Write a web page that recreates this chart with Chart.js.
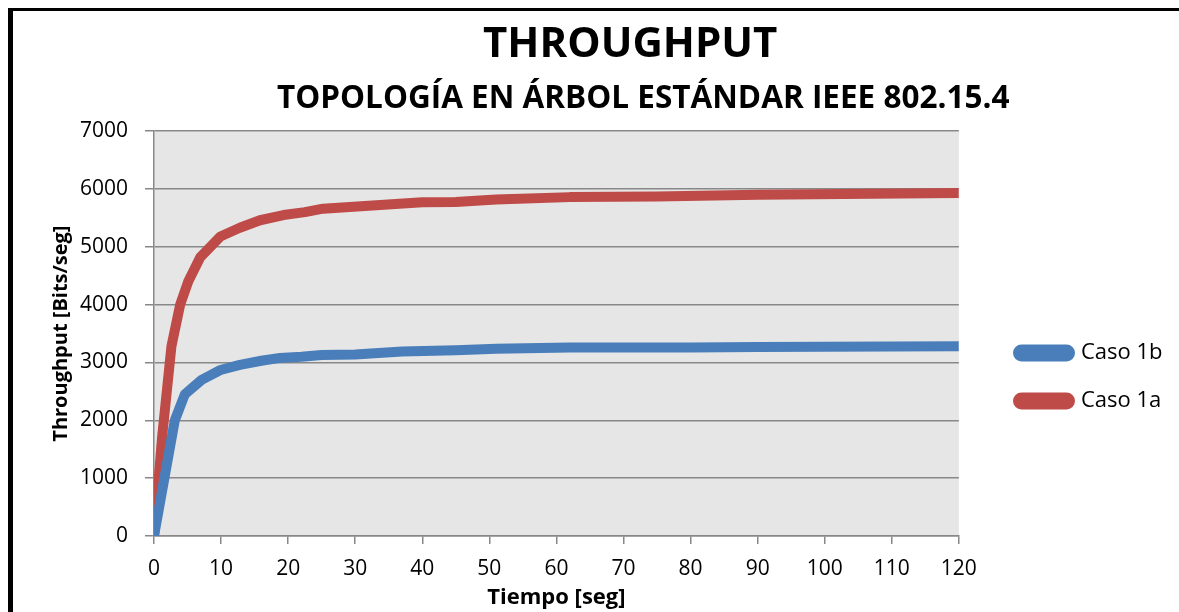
<!DOCTYPE html>
<html>
<head>
<meta charset="utf-8">
<script src="https://cdn.jsdelivr.net/npm/chart.js@4.4.1/dist/chart.umd.min.js"></script>
<style>
  html, body { margin: 0; padding: 0; background: #fff; }
  #wrap { position: relative; width: 1179px; height: 612px; overflow: hidden; }
  #frame { position: absolute; left: 8px; top: 8px; width: 1300px; height: 700px;
           border-left: 5px solid #000; border-top: 3px solid #000; pointer-events: none; }
  canvas { position: absolute; left: 0; top: 0; }
</style>
</head>
<body>
<div id="wrap">
  <canvas id="c" width="1179" height="612"></canvas>
  <div id="frame"></div>
</div>
<script>
// ---- data ----
const titleText = 'THROUGHPUT';
const subtitleText = 'TOPOLOGÍA EN ÁRBOL ESTÁNDAR IEEE 802.15.4';
const xTitle = 'Tiempo [seg]';
const yTitle = 'Throughput [Bits/seg]';
const seriesNames = ['Caso 1b', 'Caso 1a'];

const timeB  = [0, 3.1, 4.6, 7.1, 9.9, 12.8, 16, 18.8, 22, 25, 30, 37, 45, 51, 62, 80, 90, 120];
const caso1b = [0, 2000, 2450, 2700, 2870, 2960, 3030, 3080, 3100, 3130, 3140, 3190, 3210, 3240, 3260, 3260, 3270, 3280];

const timeA  = [0, 1.2, 2.6, 3.9, 5.1, 6.9, 9.9, 12.8, 15.8, 19.3, 22.5, 25.2, 36, 40, 45, 51, 62, 75, 90, 120];
const caso1a = [0, 1700, 3280, 4000, 4400, 4820, 5180, 5330, 5460, 5550, 5600, 5660, 5740, 5770, 5775, 5820, 5860, 5870, 5900, 5930];

const xMin = 0, xMax = 120, xStep = 10;
const yMin = 0, yMax = 7000, yStep = 1000;

// ---- build ----
const pts = (xs, ys) => xs.map((x, i) => ({ x: x, y: ys[i] }));
const FONT = "'Open Sans', 'Liberation Sans', sans-serif";

const plotBg = {
  id: 'plotBg',
  beforeDraw(chart) {
    const a = chart.chartArea, ctx = chart.ctx;
    ctx.save();
    ctx.fillStyle = '#e6e6e6';
    ctx.fillRect(a.left, a.top, a.right - a.left, a.bottom - a.top);
    ctx.restore();
  }
};

// place legend and titles like the reference
const placeBoxes = {
  id: 'placeBoxes',
  afterLayout(chart) {
    const l = chart.legend;
    if (l) {
      const pad = l.options.labels.padding;
      const dx = 1018 - (l.left + pad);
      const dy = 71;
      l.left += dx; l.right += dx; l.top += dy; l.bottom += dy;
    }
    const t = chart.titleBlock;
    if (t) { t.left += 54; t.right += 54; }
    const s = chart.boxes.find(b => b !== t && b.options && b.options.text === subtitleText);
    if (s) { s.left += 67; s.right += 67; }
  }
};

new Chart(document.getElementById('c'), {
  type: 'line',
  data: {
    datasets: [
      { label: seriesNames[0], data: pts(timeB, caso1b), borderColor: '#4a7ebb', backgroundColor: '#4a7ebb',
        borderWidth: 10, pointRadius: 0, tension: 0, borderJoinStyle: 'round', borderCapStyle: 'butt' },
      { label: seriesNames[1], data: pts(timeA, caso1a), borderColor: '#be4b48', backgroundColor: '#be4b48',
        borderWidth: 10, pointRadius: 0, tension: 0, borderJoinStyle: 'round', borderCapStyle: 'butt' }
    ]
  },
  options: {
    responsive: false,
    animation: false,
    devicePixelRatio: 1,
    layout: { padding: { left: 13, right: 39.6, top: 0, bottom: 0 } },
    plugins: {
      title: { display: true, text: titleText, color: '#000',
               font: { family: FONT, size: 42, weight: 'bold', lineHeight: 1.2 },
               padding: { top: 20, bottom: 0 } },
      subtitle: { display: true, text: subtitleText, color: '#000',
               font: { family: FONT, size: 31.5, weight: 'bold', lineHeight: 1.2 },
               padding: { top: 10, bottom: 13 } },
      legend: { position: 'right', align: 'center',
        labels: { color: '#000', font: { family: FONT, size: 22 }, boxWidth: 52, boxHeight: 7,
                  useBorderRadius: true, borderRadius: 3.5, padding: 26 } },
      tooltip: { enabled: false }
    },
    scales: {
      x: {
        type: 'linear', min: xMin, max: xMax,
        ticks: { stepSize: xStep, color: '#000', font: { family: FONT, size: 21 }, padding: 12, maxRotation: 0,
                 callback: v => String(v) },
        grid: { drawOnChartArea: false, drawTicks: true, tickLength: 8, color: '#888', lineWidth: 1.5 },
        border: { color: '#888', width: 1.5 },
        title: { display: true, text: xTitle, color: '#000',
                 font: { family: FONT, size: 22, weight: 'bold', lineHeight: 1.2 }, padding: { top: 0, bottom: 1 } },
        afterFit(scale) { scale.height = 76; }
      },
      y: {
        min: yMin, max: yMax,
        ticks: { stepSize: yStep, color: '#000', font: { family: FONT, size: 21 }, padding: 17,
                 callback: v => String(v) },
        grid: { drawOnChartArea: true, drawTicks: true, tickLength: 9, color: '#888', lineWidth: 1.5 },
        border: { color: '#888', width: 1.5 },
        title: { display: true, text: yTitle, color: '#000',
                 font: { family: FONT, size: 20, weight: 'bold', lineHeight: 1.2 }, padding: { top: 36, bottom: 0 } },
        afterFit(scale) { scale.width = 141; }
      }
    }
  },
  plugins: [plotBg, placeBoxes]
});
</script>
</body>
</html>
